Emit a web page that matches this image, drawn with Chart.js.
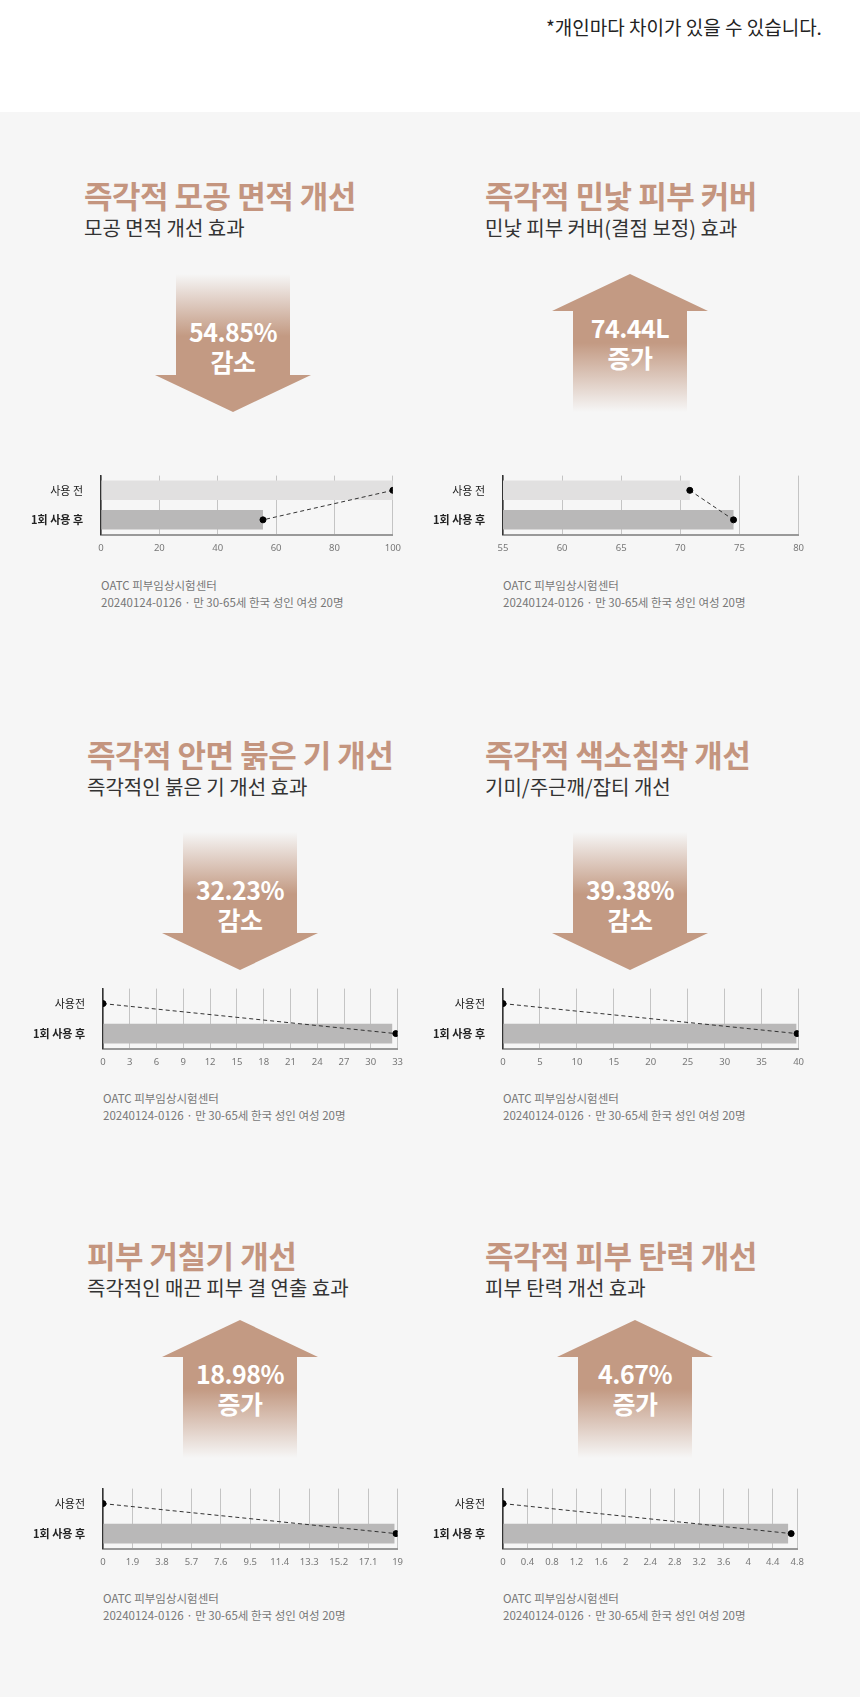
<!DOCTYPE html>
<html><head><meta charset="utf-8">
<script src="https://cdn.jsdelivr.net/npm/chart.js@4.4.1/dist/chart.umd.min.js"></script>
<style>
body{margin:0;width:860px;height:1697px;position:relative;background:#fff;font-family:"Noto Sans CJK KR","Noto Sans",sans-serif;overflow:hidden}
#bg{position:absolute;left:0;top:112px;width:860px;height:1585px;background:#f6f6f6}
.note{position:absolute;left:546px;top:16px;font-size:19px;line-height:22px;color:#222}
.t{position:absolute;font-size:31px;line-height:34px;font-weight:700;color:#c4957f;white-space:nowrap;letter-spacing:-0.5px}
.s{position:absolute;font-size:20px;line-height:22px;color:#333;white-space:nowrap}
.src{position:absolute;font-size:11.5px;color:#777;line-height:17px;white-space:nowrap}
.arr{position:absolute;width:160px;height:138px}
.at{position:absolute;width:160px;text-align:center;color:#fff;font-weight:700;font-size:25px;line-height:30px;letter-spacing:-0.5px}
.cw{position:absolute;width:380px;height:110px}
</style></head><body>
<div id="bg"></div>
<div class="note">*개인마다 차이가 있을 수 있습니다.</div>
<div id="root"></div>
<script>
// ---- data ----
const labels = ['사용 전','1회 사용 후'];
const labelsB = ['사용전','1회 사용 후'];
const titles = ['즉각적 모공 면적 개선','즉각적 민낯 피부 커버','즉각적 안면 붉은 기 개선','즉각적 색소침착 개선','피부 거칠기 개선','즉각적 피부 탄력 개선'];
const subtitles = ['모공 면적 개선 효과','민낯 피부 커버(결점 보정) 효과','즉각적인 붉은 기 개선 효과','기미/주근깨/잡티 개선','즉각적인 매끈 피부 결 연출 효과','피부 탄력 개선 효과'];
const badgeValues = ['54.85%','74.44L','32.23%','39.38%','18.98%','4.67%'];
const badgeWords = ['감소','증가','감소','감소','증가','증가'];
const barsPore = [100, 55.5];
const dotsPore = [100, 55.5];
const barsCover = [70.8, 74.5];
const dotsCover = [70.8, 74.5];
const barsRed = [null, 32.4];
const dotsRed = [0, 32.8];
const barsPig = [null, 39.7];
const dotsPig = [0, 39.8];
const barsRough = [null, 18.8];
const dotsRough = [0, 18.9];
const barsElastic = [null, 4.65];
const dotsElastic = [0, 4.7];
const ticksPore = [0,20,40,60,80,100];
const ticksCover = [55,60,65,70,75,80];
const ticksRed = [0,3,6,9,12,15,18,21,24,27,30,33];
const ticksPig = [0,5,10,15,20,25,30,35,40];
const ticksRough = [0,1.9,3.8,5.7,7.6,9.5,11.4,13.3,15.2,17.1,19];
const ticksElastic = [0,0.4,0.8,1.2,1.6,2,2.4,2.8,3.2,3.6,4,4.4,4.8];
const srcLines = ['OATC 피부임상시험센터','20240124-0126 · 만 30-65세 한국 성인 여성 20명'];

const panels = [
 {col:0,row:0,bars:barsPore,dots:dotsPore,ticks:ticksPore,lab:labels,up:false},
 {col:1,row:0,bars:barsCover,dots:dotsCover,ticks:ticksCover,lab:labels,up:true},
 {col:0,row:1,bars:barsRed,dots:dotsRed,ticks:ticksRed,lab:labelsB,up:false},
 {col:1,row:1,bars:barsPig,dots:dotsPig,ticks:ticksPig,lab:labelsB,up:false},
 {col:0,row:2,bars:barsRough,dots:dotsRough,ticks:ticksRough,lab:labelsB,up:true},
 {col:1,row:2,bars:barsElastic,dots:dotsElastic,ticks:ticksElastic,lab:labelsB,up:true},
];
// layout
const titleY=[178,737,1238], arrowY=[274,832,1320], chartTop=[467,980,1480], chartH=[73,74,74];
const titleX=[84,485], arrowCX=[233,630], chartL=[101,503], chartR=[399,802];
const root=document.getElementById('root');
function el(tag,cls,css,html){const e=document.createElement(tag);if(cls)e.className=cls;Object.assign(e.style,css);if(html!=null)e.innerHTML=html;root.appendChild(e);return e;}
function arrowSVG(up,id){
 const c='#c39a83';
 if(!up) return `<svg width="160" height="138"><defs><linearGradient id="${id}" x1="0" y1="0" x2="0" y2="1"><stop offset="0" stop-color="${c}" stop-opacity="0"/><stop offset="0.45" stop-color="${c}"/></linearGradient></defs><path d="M23,0 H137 V101 H158 L80,138 L2,101 H23 Z" fill="url(#${id})"/></svg>`;
 return `<svg width="160" height="138"><defs><linearGradient id="${id}" x1="0" y1="0" x2="0" y2="1"><stop offset="0.5" stop-color="${c}"/><stop offset="1" stop-color="${c}" stop-opacity="0"/></linearGradient></defs><path d="M80,0 L158,37 H137 V138 H23 V37 H2 Z" fill="url(#${id})"/></svg>`;
}
panels.forEach((p,i)=>{
 const tx=titleX[p.col]+(p.row>0&&p.col==0?3:0);
 el('div','t',{left:tx+'px',top:titleY[p.row]+'px'},titles[i]);
 el('div','s',{left:tx+'px',top:(titleY[p.row]+39)+'px'},subtitles[i]);
 const ax=arrowCX[p.col]+(p.row>0&&p.col==0?7:0)+(p.row==2&&p.col==1?5:0);
 el('div','arr',{left:(ax-80)+'px',top:arrowY[p.row]+'px'},arrowSVG(p.up,'g'+i));
 el('div','at',{left:(ax-80)+'px',top:(arrowY[p.row]+(p.up?38:42))+'px'},badgeValues[i]+'<br>'+badgeWords[i]);
 const L=chartL[p.col]+(p.row>0&&p.col==0?2:0), R=chartR[p.col]+(p.row>0&&p.col==0?2:0);
 const w=R-L+80, h=chartH[p.row]+30;
 const wrap=el('div','cw',{left:(L-70)+'px',top:(chartTop[p.row]-8)+'px',width:w+'px',height:h+'px'});
 const cv=document.createElement('canvas');wrap.appendChild(cv);
 el('div','src',{left:(L)+'px',top:(chartTop[p.row]+110)+'px'},srcLines.join('<br>'));
 new Chart(cv,{
  data:{labels:p.lab,datasets:[
   {type:'bar',indexAxis:'y',data:p.bars,backgroundColor:['#e1e0e0','#b9b8b8'],barPercentage:0.66,categoryPercentage:1,order:2},
   {type:'line',indexAxis:'y',data:p.dots,borderColor:'#333',borderWidth:1,borderDash:[4,3],pointRadius:3,pointBackgroundColor:'#000',pointBorderColor:'#000',order:1}
  ]},
  options:{indexAxis:'y',responsive:true,maintainAspectRatio:false,animation:false,
   layout:{padding:{top:8,right:10,left:0,bottom:0}},
   plugins:{legend:{display:false},tooltip:{enabled:false}},
   scales:{
    x:{type:'linear',min:p.ticks[0],max:p.ticks[p.ticks.length-1],
       afterBuildTicks:a=>{a.ticks=p.ticks.map(v=>({value:v}));},
       ticks:{color:'#777',font:{size:9.5,family:'Noto Sans'},padding:8,callback:v=>String(v)},
       grid:{color:'#c4c4c4',drawTicks:false},border:{color:'#999',width:2}},
    y:{afterFit:s=>{s.width=70;},grid:{display:false},border:{color:'#333',width:1.5},
       ticks:{color:'#222',padding:10,font:c=>({size:11,weight:c.index==1?'bold':'normal',family:'Noto Sans CJK KR'})}}
   }}
 });
});
</script></body></html>
